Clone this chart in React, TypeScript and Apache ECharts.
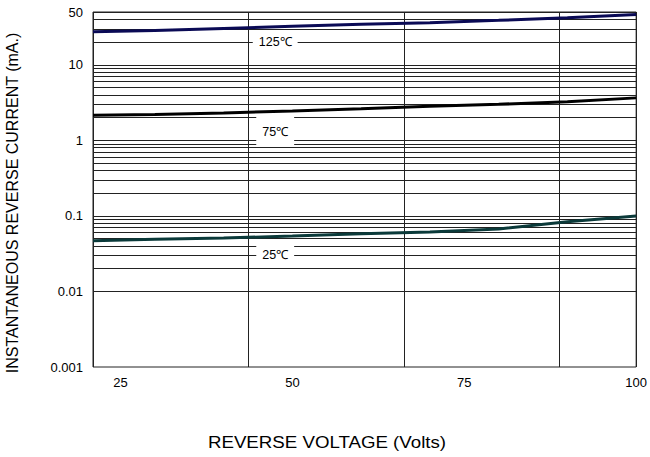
import React, { useEffect, useRef } from "react";
import * as echarts from "echarts";

const voltages = [21, 30, 40, 50, 60, 70, 80, 90, 100];
const current125 = [27.4, 28.5, 30.3, 32.3, 34.3, 36.0, 38.8, 42.0, 46.4];
const current75 = [2.15, 2.2, 2.3, 2.45, 2.62, 2.82, 3.0, 3.25, 3.65];
const current25 = [0.047, 0.049, 0.051, 0.054, 0.058, 0.0614, 0.0673, 0.0834, 0.1];
const xTickLabels = [25, 50, 75, 100];
const yTickLabels = [0.001, 0.01, 0.1, 1, 10, 50];
const gridMantissas = [1, 2, 3, 4, 5, 6, 7, 8, 9];
const gridDecades = [0.001, 0.01, 0.1, 1, 10];
const curveLabels = [
  { text: "125℃", v: 47.5, i: 20 },
  { text: "75℃", v: 47.5, i: 1.3 },
  { text: "25℃", v: 47.5, i: 0.03 },
];

const FONT = "'Liberation Sans', Arial, sans-serif";

export default function App() {
  const ref = useRef<HTMLDivElement>(null);
  useEffect(() => {
    document.body.style.margin = "0";
    if (!ref.current) return;
    const chart = echarts.init(ref.current, null, { renderer: "svg" });
    const hLines: { yAxis: number }[] = [];
    gridDecades.forEach((d) =>
      gridMantissas.forEach((m) => {
        const v = +(d * m).toPrecision(3);
        if (v <= 50) hLines.push({ yAxis: v });
      })
    );
    hLines.push({ yAxis: 50 });
    const toData = (arr: number[]) => voltages.map((v, k) => [v, arr[k]]);
    const labelPoint = (l: { text: string; v: number; i: number }, pad: number[]) => ({
      markPoint: {
        silent: true,
        symbol: "rect",
        symbolSize: [1, 1],
        itemStyle: { color: "rgba(0,0,0,0)" },
        data: [
          {
            coord: [l.v, l.i],
            label: {
              show: true,
              formatter: l.text,
              position: "inside",
              color: "#000",
              fontSize: 12.5,
              fontFamily: FONT,
              backgroundColor: "#fff",
              padding: pad,
            },
          },
        ],
      },
    });
    chart.setOption({
      animation: false,
      backgroundColor: "#fff",
      grid: {
        left: 93,
        right: 12,
        top: 12,
        bottom: 90,
        show: true,
        borderColor: "#222",
        borderWidth: 1,
        backgroundColor: "transparent",
      },
      xAxis: [
        {
          type: "value",
          min: 21,
          max: 100,
          axisLine: { show: false },
          axisTick: { show: false },
          splitLine: { show: false },
          axisLabel: {
            customValues: xTickLabels,
            color: "#000",
            fontSize: 13,
            fontFamily: FONT,
            margin: 9,
          },
        },
        {
          type: "value",
          min: 0,
          max: 545 / 156,
          interval: 1,
          axisLine: { show: false },
          axisTick: { show: false },
          axisLabel: { show: false },
          splitLine: { show: true, lineStyle: { color: "#222", width: 1 } },
        },
      ],
      yAxis: {
        type: "log",
        logBase: 10,
        min: 0.001,
        max: 50,
        axisLine: { show: false },
        axisTick: { show: false },
        splitLine: { show: false },
        axisLabel: {
          customValues: yTickLabels,
          formatter: (v: number) => String(+v.toPrecision(3)),
          color: "#000",
          fontSize: 13,
          fontFamily: FONT,
          margin: 10,
        },
      },
      series: [
        {
          type: "line",
          name: "grid",
          data: [],
          silent: true,
          markLine: {
            silent: true,
            symbol: ["none", "none"],
            label: { show: false },
            lineStyle: { color: "#222", width: 1, type: "solid" },
            z: 1,
            data: hLines,
          },
        },
        {
          type: "line",
          name: "125℃",
          data: toData(current125),
          showSymbol: false,
          z: 6,
          lineStyle: { color: "#0a0a55", width: 3 },
          ...labelPoint(curveLabels[0], [3, 6, 3, 6]),
        },
        {
          type: "line",
          name: "75℃",
          data: toData(current75),
          showSymbol: false,
          z: 6,
          lineStyle: { color: "#000000", width: 3 },
          ...labelPoint(curveLabels[1], [4, 6, 13, 6]),
        },
        {
          type: "line",
          name: "25℃",
          data: toData(current25),
          showSymbol: false,
          z: 6,
          lineStyle: { color: "#0b3a3a", width: 3 },
          ...labelPoint(curveLabels[2], [3, 6, 3, 6]),
        },
      ],
      graphic: [
        {
          type: "text",
          x: 12,
          y: 203,
          rotation: Math.PI / 2,
          style: {
            text: "INSTANTANEOUS REVERSE CURRENT (mA.)",
            fontSize: 16,
            fontFamily: FONT,
            fill: "#000",
            align: "center",
            verticalAlign: "middle",
          },
        },
        {
          type: "text",
          x: 327,
          y: 442,
          scaleX: 1.1,
          style: {
            text: "REVERSE VOLTAGE (Volts)",
            fontSize: 17,
            fontFamily: FONT,
            fill: "#000",
            align: "center",
            verticalAlign: "middle",
          },
        },
      ],
    });
    return () => chart.dispose();
  }, []);
  return <div ref={ref} style={{ width: 650, height: 457 }} />;
}
